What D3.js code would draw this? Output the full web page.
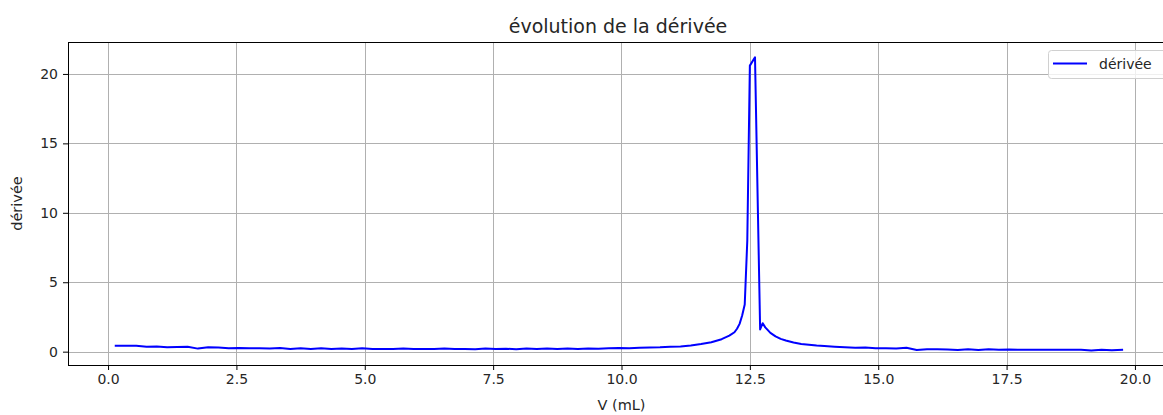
<!DOCTYPE html>
<html>
<head>
<meta charset="utf-8">
<script src="https://cdn.jsdelivr.net/npm/d3@7"></script>
<style>
html,body{margin:0;padding:0;background:#fff;overflow:hidden;}
svg{display:block;}
text{font-family:"DejaVu Sans",sans-serif;fill:#262626;}
</style>
</head>
<body>
<svg id="chart" width="1163" height="415"></svg>
<script>
// ---- data ----
const volumes = [0.15,0.35,0.55,0.75,0.95,1.15,1.35,1.55,1.75,1.95,2.15,2.35,2.55,2.75,2.95,3.15,3.35,3.55,3.75,3.95,
  4.15,4.35,4.55,4.75,4.95,5.15,5.35,5.55,5.75,5.95,6.15,6.35,6.55,6.75,6.95,7.15,7.35,7.55,7.75,7.95,
  8.15,8.35,8.55,8.75,8.95,9.15,9.35,9.55,9.75,9.95,10.15,10.35,10.55,10.75,10.95,11.15,11.35,11.55,11.75,11.95,
  12.1,12.2,12.25,12.3,12.35,12.4,12.45,12.5,12.6,12.7,12.75,12.8,12.9,13.0,13.1,13.2,13.35,13.5,13.65,13.8,
  13.95,14.15,14.35,14.55,14.75,14.95,15.15,15.35,15.55,15.75,15.95,16.15,16.35,16.55,16.75,16.95,17.15,17.35,17.55,17.75,
  17.95,18.15,18.35,18.55,18.75,18.95,19.15,19.35,19.55,19.75];
const derivees = [0.42,0.42,0.42,0.36,0.38,0.32,0.34,0.36,0.22,0.32,0.30,0.24,0.27,0.24,0.25,0.22,0.26,0.20,0.25,0.20,
  0.24,0.20,0.23,0.19,0.24,0.20,0.20,0.20,0.23,0.20,0.20,0.19,0.23,0.20,0.20,0.18,0.22,0.20,0.21,0.18,
  0.23,0.19,0.22,0.19,0.22,0.20,0.22,0.21,0.24,0.27,0.24,0.28,0.30,0.32,0.36,0.38,0.45,0.55,0.68,0.90,
  1.15,1.40,1.65,2.00,2.60,3.40,8.00,20.6,21.2,1.60,2.05,1.75,1.35,1.10,0.92,0.80,0.66,0.56,0.50,0.44,
  0.40,0.36,0.32,0.28,0.30,0.25,0.24,0.22,0.28,0.12,0.18,0.18,0.16,0.12,0.18,0.12,0.18,0.14,0.16,0.13,
  0.13,0.13,0.13,0.13,0.13,0.13,0.08,0.14,0.10,0.14];
const xTicks = [0.0,2.5,5.0,7.5,10.0,12.5,15.0,17.5,20.0];
const yTicks = [0,5,10,15,20];
const titleText = "évolution de la dérivée";
const xLabel = "V (mL)";
const yLabel = "dérivée";
const seriesName = "dérivée";

// ---- layout ----
const svg = d3.select("#chart");
const L = 68, R = 1175, T = 42, B = 365;
const x = d3.scaleLinear().domain([-0.78, 20.78]).range([L, R]);
const y = d3.scaleLinear().domain([-0.96, 22.3]).range([B, T]);

svg.append("defs").append("clipPath").attr("id","clip")
  .append("rect").attr("x",L).attr("y",T).attr("width",R-L).attr("height",B-T);

// grid
const grid = svg.append("g");
grid.selectAll(".gx").data(xTicks).enter().append("line")
  .attr("x1",d=>Math.round(x(d))+0.5).attr("x2",d=>Math.round(x(d))+0.5)
  .attr("y1",T).attr("y2",B).attr("stroke","#b0b0b0").attr("stroke-width",1);
grid.selectAll(".gy").data(yTicks).enter().append("line")
  .attr("y1",d=>Math.round(y(d))+0.5).attr("y2",d=>Math.round(y(d))+0.5)
  .attr("x1",L).attr("x2",R).attr("stroke","#b0b0b0").attr("stroke-width",1);

// line
const data = volumes.map((v,i)=>({v, d:derivees[i]}));
svg.append("path").datum(data)
  .attr("clip-path","url(#clip)")
  .attr("fill","none").attr("stroke","#0000ff").attr("stroke-width",2)
  .attr("stroke-linejoin","round").attr("stroke-linecap","square")
  .attr("d", d3.line().x(p=>x(p.v)).y(p=>y(p.d)));

// axes
const fmtX = d3.format(".1f");
const xAxis = d3.axisBottom(x).tickValues(xTicks).tickFormat(fmtX).tickSizeInner(5).tickSizeOuter(0).tickPadding(4);
const yAxis = d3.axisLeft(y).tickValues(yTicks).tickFormat(d3.format("d")).tickSizeInner(5).tickSizeOuter(0).tickPadding(5);
const gx = svg.append("g").attr("transform",`translate(0,${B})`).call(xAxis);
const gy = svg.append("g").attr("transform",`translate(${L},0)`).call(yAxis);
[gx,gy].forEach(g=>{
  g.select(".domain").remove();
  g.selectAll(".tick line").attr("stroke","#000").attr("stroke-width",1);
  g.selectAll(".tick text").attr("font-family","DejaVu Sans").attr("font-size",14).attr("fill","#262626");
});

// spines
svg.append("rect").attr("x",L+0.5).attr("y",T+0.5).attr("width",R-L).attr("height",B-T)
  .attr("fill","none").attr("stroke","#000").attr("stroke-width",1);

// title and labels
svg.append("text").attr("x",618).attr("y",33).attr("text-anchor","middle")
  .attr("font-size",19).text(titleText);
svg.append("text").attr("x",(L+R)/2).attr("y",410).attr("text-anchor","middle")
  .attr("font-size",14.5).text(xLabel);
svg.append("text").attr("transform",`translate(22,${(T+B)/2}) rotate(-90)`).attr("text-anchor","middle")
  .attr("font-size",14.5).text(yLabel);

// legend
const lg = svg.append("g");
lg.append("rect").attr("x",1048.5).attr("y",50.5).attr("width",122).attr("height",28).attr("rx",3)
  .attr("fill","#fff").attr("fill-opacity",0.8).attr("stroke","#d0d0d0").attr("stroke-width",1);
lg.append("line").attr("x1",1053).attr("x2",1087).attr("y1",63.5).attr("y2",63.5)
  .attr("stroke","#0000ff").attr("stroke-width",2);
lg.append("text").attr("x",1099).attr("y",69).attr("font-size",14).text(seriesName);
</script>
</body>
</html>
